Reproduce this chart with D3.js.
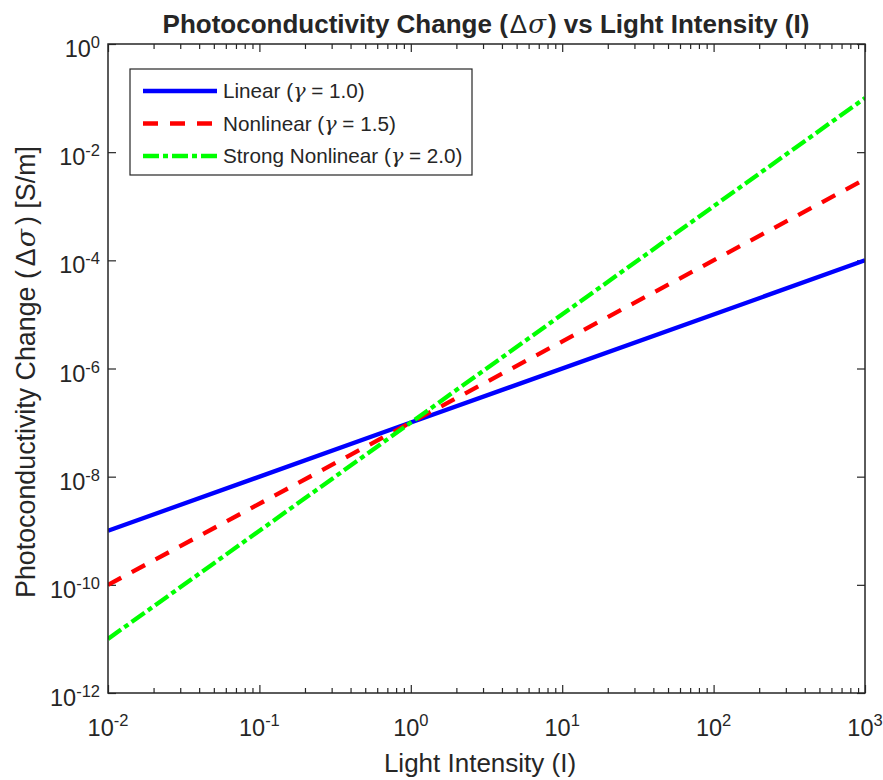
<!DOCTYPE html>
<html>
<head>
<meta charset="utf-8">
<script src="https://cdn.jsdelivr.net/npm/d3@7"></script>
<style>
  body { margin: 0; background: #fff; }
  text { font-family: "Liberation Sans", Arial, Helvetica, sans-serif; fill: #262626; }
</style>
</head>
<body>
<svg id="chart" width="883" height="780"></svg>
<script>
// Data (straight lines on log-log, so the ends + crossing point)
var intensity = [0.01, 1, 1000];
var linearVals = [1e-9, 1e-7, 1e-4];
var nonlinearVals = [1e-10, 1e-7, 3.16e-3];
var strongVals = [1e-11, 1e-7, 1e-1];

var seriesNames = ["Linear", "Nonlinear", "Strong Nonlinear"];
var gammas = ["1.0", "1.5", "2.0"];

var xTickExps = [-2, -1, 0, 1, 2, 3];
var yTickExps = [0, -2, -4, -6, -8, -10, -12];

var colors = ["#0000ff", "#ff0000", "#00ff00"];
var dashes = [null, "15,12", "16,4,5,4"];

var plot = { left: 108, top: 44, right: 865, bottom: 693 };

var svg = d3.select("#chart");

var x = d3.scaleLog().domain([1e-2, 1e3]).range([plot.left, plot.right]);
var y = d3.scaleLog().domain([1e-12, 1e0]).range([plot.bottom, plot.top]);

var axisColor = "#262626";

// ticks (inward, on all four sides)
var allX = x.ticks();
var majorX = allX.filter(d => Math.abs(Math.log10(d) - Math.round(Math.log10(d))) < 1e-9);
var minorX = allX.filter(d => majorX.indexOf(d) < 0);
var yVals = yTickExps.map(e => Math.pow(10, e));

function styleAxis (g) {
  g.select(".domain").remove();
  g.selectAll("line").attr("stroke", axisColor).attr("stroke-width", 1.2);
}

svg.append("g").attr("transform", "translate(0," + plot.bottom + ")")
  .call(d3.axisBottom(x).tickValues(minorX).tickSize(-5).tickFormat("")).call(styleAxis);
svg.append("g").attr("transform", "translate(0," + plot.bottom + ")")
  .call(d3.axisBottom(x).tickValues(majorX).tickSize(-8).tickFormat("")).call(styleAxis);
svg.append("g").attr("transform", "translate(0," + plot.top + ")")
  .call(d3.axisTop(x).tickValues(minorX).tickSize(-5).tickFormat("")).call(styleAxis);
svg.append("g").attr("transform", "translate(0," + plot.top + ")")
  .call(d3.axisTop(x).tickValues(majorX).tickSize(-8).tickFormat("")).call(styleAxis);
svg.append("g").attr("transform", "translate(" + plot.left + ",0)")
  .call(d3.axisLeft(y).tickValues(yVals).tickSize(-8).tickFormat("")).call(styleAxis);
svg.append("g").attr("transform", "translate(" + plot.right + ",0)")
  .call(d3.axisRight(y).tickValues(yVals).tickSize(-8).tickFormat("")).call(styleAxis);

// tick labels 10^n
xTickExps.forEach(e => {
  var t = svg.append("text").attr("x", x(Math.pow(10, e))).attr("y", 736)
    .attr("text-anchor", "middle").style("font-size", "23.5px");
  t.append("tspan").text("10");
  t.append("tspan").attr("dy", -10).style("font-size", "16.5px").text(e);
});
yTickExps.forEach(e => {
  var t = svg.append("text").attr("x", plot.left - 8).attr("y", y(Math.pow(10, e)) + 13)
    .attr("text-anchor", "end").style("font-size", "23.5px");
  t.append("tspan").text("10");
  t.append("tspan").attr("dy", -9).style("font-size", "16.5px").text(e);
});

// lines
var line = d3.line().x(d => x(d[0])).y(d => y(d[1]));
svg.append("clipPath").attr("id", "clip").append("rect")
  .attr("x", plot.left).attr("y", plot.top)
  .attr("width", plot.right - plot.left).attr("height", plot.bottom - plot.top);

[linearVals, nonlinearVals, strongVals].forEach((vals, i) => {
  svg.append("path")
    .datum(d3.zip(intensity, vals))
    .attr("d", line)
    .attr("fill", "none")
    .attr("stroke", colors[i])
    .attr("stroke-width", 4.3)
    .attr("stroke-dasharray", dashes[i])
    .attr("clip-path", "url(#clip)");
});

// box
svg.append("rect")
  .attr("x", plot.left).attr("y", plot.top)
  .attr("width", plot.right - plot.left).attr("height", plot.bottom - plot.top)
  .attr("fill", "none").attr("stroke", axisColor).attr("stroke-width", 1.5);

// legend
var lg = svg.append("g");
lg.append("rect").attr("x", 130).attr("y", 69).attr("width", 342).attr("height", 106)
  .attr("fill", "#fff").attr("stroke", axisColor).attr("stroke-width", 1.2);
seriesNames.forEach((name, i) => {
  var yy = 91 + i * 32.5;
  lg.append("line").attr("x1", 143).attr("x2", 217).attr("y1", yy).attr("y2", yy)
    .attr("stroke", colors[i]).attr("stroke-width", 4.3).attr("stroke-dasharray", dashes[i]);
  var t = lg.append("text").attr("x", 223).attr("y", yy + 7).style("font-size", "20.7px");
  t.append("tspan").text(name + " (");
  t.append("tspan").style("font-style", "italic").style("font-family", "DejaVu Serif, serif").text("\u03b3");
  t.append("tspan").text(" = " + gammas[i] + ")");
});

// title
var title = svg.append("text").attr("x", 486).attr("y", 33).attr("text-anchor", "middle")
  .style("font-size", "26px").style("font-weight", "bold");
title.append("tspan").text("Photoconductivity Change (");
title.append("tspan").attr("dx", 2).style("font-weight", "normal").text("\u0394");
title.append("tspan").attr("dx", 1).style("font-weight", "normal").style("font-style", "italic").style("font-family", "DejaVu Serif, serif").text("\u03c3");
title.append("tspan").attr("dx", 2).text(") vs Light Intensity (I)");

// axis labels
svg.append("text").attr("x", 480).attr("y", 772).attr("text-anchor", "middle")
  .style("font-size", "26px").text("Light Intensity (I)");

var yl = svg.append("text").attr("transform", "translate(35,372) rotate(-90)")
  .attr("text-anchor", "middle").style("font-size", "26.8px");
yl.append("tspan").text("Photoconductivity Change (");
yl.append("tspan").attr("dx", 4).text("\u0394");
yl.append("tspan").attr("dx", 1).style("font-style", "italic").style("font-family", "DejaVu Serif, serif").text("\u03c3");
yl.append("tspan").attr("dx", 4).text(") [S/m]");
</script>
</body>
</html>
